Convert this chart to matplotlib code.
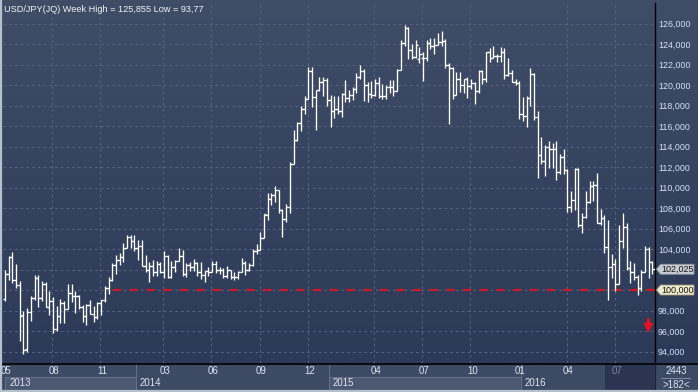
import matplotlib
matplotlib.use('Agg')
import matplotlib.pyplot as plt
import matplotlib.transforms as mtrans
import numpy as np
import pandas as pd
from matplotlib.collections import LineCollection
from matplotlib.patches import Rectangle, Polygon

plt.rcParams['font.family'] = ['Liberation Sans', 'DejaVu Sans']

# ---------------- data ----------------
first_week = '2013-05-06'
opens = [99.1, 101.6, 103.2, 101.0, 100.5, 97.6, 94.2, 97.9, 99.2, 101.2,
         99.2, 100.6, 98.3, 98.9, 96.2, 97.5, 98.7, 98.1, 99.7, 99.4,
         99.4, 98.3, 97.5, 98.5, 97.7, 97.4, 98.7, 99.0, 100.2, 101.0,
         102.4, 102.9, 103.2, 104.1, 105.2, 104.8, 104.1, 104.3, 102.3, 102.0,
         102.3, 101.8, 102.5, 101.8, 103.3, 101.3, 102.2, 102.8, 103.3, 101.6,
         102.4, 102.2, 102.6, 101.8, 101.5, 101.9, 101.8, 102.5, 102.0, 102.0,
         101.4, 102.0, 101.3, 101.3, 101.8, 102.6, 102.0, 102.4, 103.8, 103.9,
         105.1, 107.3, 108.9, 109.3, 109.8, 107.8, 106.9, 108.1, 112.3, 114.6,
         116.3, 117.7, 118.6, 121.4, 118.8, 119.5, 120.3, 120.5, 118.5, 117.5,
         117.7, 117.5, 119.1, 118.7, 119.0, 119.6, 120.8, 121.4, 120.0, 119.1,
         119.0, 120.2, 118.9, 118.9, 119.8, 119.8, 119.4, 121.5, 124.1, 125.6,
         123.4, 122.7, 122.5, 122.6, 122.6, 124.1, 123.8, 123.9, 124.2, 124.3,
         122.0, 121.7, 119.0, 120.6, 120.0, 120.6, 119.9, 120.2, 119.4, 121.4,
         120.6, 123.2, 122.6, 122.8, 122.8, 123.2, 121.0, 121.2, 120.3, 120.2,
         117.2, 117.0, 118.7, 121.1, 116.9, 113.2, 112.6, 114.0, 113.8, 113.8,
         111.5, 113.0, 111.7, 108.1, 108.8, 111.8, 106.3, 107.1, 108.6, 110.1,
         110.2, 106.5, 107.0, 104.2, 102.2, 102.5, 100.6, 104.8, 106.1, 102.1,
         101.8, 101.3, 100.2, 101.8, 104.0, 102.7]
highs = [102.0, 103.3, 103.7, 102.5, 100.9, 98.0, 98.2, 99.4, 101.5, 101.5,
         100.9, 100.8, 99.9, 99.3, 98.4, 99.1, 98.9, 100.6, 100.6, 99.9,
         99.5, 98.5, 98.6, 99.0, 98.4, 98.8, 99.0, 100.4, 101.3, 102.6,
         103.4, 103.6, 104.6, 105.4, 105.4, 105.4, 104.9, 104.9, 103.4, 102.7,
         102.9, 102.8, 102.7, 103.8, 103.4, 102.8, 102.9, 104.1, 103.9, 102.6,
         102.7, 103.0, 102.7, 102.7, 101.9, 102.2, 102.8, 102.8, 102.2, 102.1,
         102.3, 102.0, 101.8, 101.9, 103.1, 102.8, 102.6, 104.0, 104.5, 105.7,
         107.4, 109.5, 109.5, 110.1, 109.8, 107.9, 108.4, 112.5, 115.6, 116.4,
         118.0, 118.9, 121.8, 121.8, 119.5, 120.8, 120.8, 120.7, 119.0, 118.9,
         118.9, 119.2, 120.5, 119.5, 119.8, 121.2, 122.0, 121.6, 120.3, 120.4,
         120.6, 120.8, 120.1, 120.0, 120.5, 120.5, 121.6, 124.4, 125.9, 125.7,
         124.0, 124.4, 123.7, 123.2, 124.4, 124.6, 124.6, 125.1, 125.3, 124.5,
         122.1, 121.8, 121.3, 121.3, 120.6, 120.8, 120.6, 120.3, 121.5, 121.5,
         123.2, 123.6, 123.8, 123.0, 123.7, 123.6, 122.6, 121.5, 120.6, 120.4,
         118.8, 118.9, 121.7, 121.2, 117.5, 114.9, 114.1, 114.5, 114.3, 114.5,
         113.3, 113.8, 111.8, 109.7, 111.9, 111.9, 107.5, 109.7, 110.6, 110.6,
         111.4, 107.9, 107.3, 106.8, 103.5, 103.0, 106.3, 107.5, 106.5, 102.8,
         102.6, 101.5, 102.0, 104.3, 104.2, 102.8]
lows = [98.9, 101.0, 100.7, 100.2, 95.0, 93.8, 94.0, 97.0, 99.0, 98.3,
        98.9, 98.3, 97.6, 95.8, 96.0, 96.8, 96.8, 98.1, 98.8, 97.8,
        98.1, 96.9, 96.6, 97.7, 96.9, 97.2, 97.6, 98.8, 99.6, 100.9,
        101.6, 102.4, 102.7, 104.1, 104.1, 103.8, 102.9, 102.3, 101.8, 100.8,
        101.4, 101.4, 101.7, 101.2, 101.2, 101.2, 101.8, 102.8, 101.4, 101.3,
        101.9, 101.9, 101.4, 101.1, 100.8, 101.4, 101.8, 101.7, 101.6, 101.2,
        101.2, 101.1, 101.0, 101.1, 101.8, 101.5, 101.9, 102.3, 103.5, 103.9,
        105.1, 106.8, 108.3, 108.6, 107.5, 105.2, 106.6, 107.5, 112.3, 114.5,
        115.5, 117.2, 118.6, 117.9, 115.6, 119.4, 118.9, 118.0, 115.9, 116.8,
        117.2, 116.9, 118.3, 118.3, 118.5, 119.2, 120.6, 118.4, 118.3, 118.7,
        118.9, 118.7, 118.6, 118.6, 119.2, 118.9, 119.4, 121.5, 123.8, 122.5,
        122.5, 122.6, 122.1, 120.4, 122.3, 123.5, 123.0, 123.9, 123.8, 121.7,
        116.2, 118.6, 119.0, 119.3, 119.2, 118.7, 119.6, 118.1, 119.2, 120.1,
        120.3, 122.2, 122.6, 122.2, 122.2, 120.6, 120.9, 120.3, 120.0, 116.7,
        116.5, 115.9, 118.0, 116.6, 110.9, 112.3, 111.1, 111.9, 111.9, 110.7,
        111.3, 111.3, 107.6, 107.6, 107.8, 106.1, 105.6, 107.0, 108.5, 108.7,
        106.5, 106.3, 103.6, 99.0, 101.2, 99.9, 100.6, 104.1, 102.0, 100.7,
        101.0, 99.5, 99.9, 101.8, 101.2, 101.6]
closes = [101.6, 103.2, 101.0, 100.5, 97.5, 94.1, 97.9, 99.2, 101.2, 99.2,
          100.6, 98.3, 98.9, 96.2, 97.5, 98.7, 98.1, 99.7, 99.4, 99.4,
          98.3, 97.5, 98.5, 97.7, 97.4, 98.7, 99.0, 100.2, 101.0, 102.4,
          102.9, 103.2, 104.1, 105.2, 104.8, 104.1, 104.3, 102.3, 102.0, 102.3,
          101.8, 102.5, 101.8, 103.3, 101.3, 102.2, 102.8, 103.3, 101.6, 102.4,
          102.2, 102.6, 101.8, 101.5, 101.9, 101.8, 102.5, 102.0, 102.0, 101.4,
          102.0, 101.3, 101.3, 101.8, 102.6, 102.0, 102.4, 103.8, 103.9, 105.1,
          107.4, 108.9, 109.3, 109.8, 107.8, 106.9, 108.1, 112.3, 114.6, 116.3,
          117.7, 118.6, 121.4, 118.8, 119.5, 120.3, 120.5, 118.5, 117.5, 117.7,
          117.5, 119.1, 118.7, 119.0, 119.6, 120.8, 121.4, 120.0, 119.1, 119.0,
          120.2, 118.9, 118.9, 119.8, 119.8, 119.4, 121.5, 124.1, 125.6, 123.4,
          122.7, 123.9, 123.0, 122.6, 124.1, 123.8, 123.9, 124.2, 124.3, 122.0,
          121.7, 119.0, 120.6, 120.0, 120.6, 119.9, 120.2, 119.4, 121.4, 120.6,
          123.2, 122.6, 122.8, 122.8, 123.2, 121.0, 121.2, 120.3, 120.2, 117.2,
          117.0, 118.7, 121.1, 116.9, 113.2, 112.6, 114.0, 113.8, 113.8, 111.5,
          113.0, 111.7, 108.1, 108.8, 111.8, 106.3, 107.1, 108.6, 110.1, 110.2,
          106.5, 107.0, 104.2, 102.2, 102.5, 100.6, 104.8, 106.1, 102.1, 101.8,
          101.3, 100.2, 101.8, 104.0, 102.7, 102.025]

weeks = pd.date_range(first_week, periods=len(opens), freq='7D')

y_ticks = [94, 96, 98, 100, 102, 104, 106, 108, 110, 112, 114, 116, 118, 120, 122, 124, 126]
month_marks = [(2013, 5, '05'), (2013, 8, '08'), (2013, 11, '11'),
               (2014, 3, '03'), (2014, 6, '06'), (2014, 9, '09'), (2014, 12, '12'),
               (2015, 4, '04'), (2015, 7, '07'), (2015, 10, '10'),
               (2016, 1, '01'), (2016, 4, '04'), (2016, 7, '07')]
years = [2013, 2014, 2015, 2016]
title = 'USD/JPY(JQ) Week High = 125,855 Low = 93,77'
last_price = 102.025
ref_level = 100.0
ref_start_week = 29.3
bar_count_text = '2443'
visible_text = '>182<'

# ---------------- layout ----------------
W, H = 698, 392
fig = plt.figure(figsize=(W / 100, H / 100), dpi=100)
fig.patch.set_facecolor('#3c4963')

def fx(px):
    return px / W

def fy(py):
    return 1 - py / H

# gradient background (plot + right scale area)
bg = fig.add_axes([0, fy(363), 1, 363 / H])
t = np.linspace(0, 1, 256)[:, None, None]
c_top = np.array([64, 77, 103]) / 255
c_bot = np.array([44, 57, 88]) / 255
bg.imshow(c_top + (c_bot - c_top) * t, aspect='auto', extent=[0, 1, 0, 1], origin='upper')
bg.set_axis_off()

ax = fig.add_axes([fx(3), fy(363), (655 - 3) / W, (363 - 3) / H])
ax.set_facecolor('none')
xmin, xmax = -0.54, 175.68
ax.set_xlim(xmin, xmax)
ax.set_ylim(92.88, 128.0)

idx = np.arange(len(opens))
month_pos = []
for (yy, mm, lab) in month_marks:
    sel = np.where((weeks.year == yy) & (weeks.month == mm))[0]
    month_pos.append((sel[0], lab))
year_pos = [np.where(weeks.year == yy)[0][0] for yy in years]

# grid
grid_kw = dict(color='#56647f', lw=0.75, ls=(0, (2.5, 3)), zorder=1)
for v in y_ticks:
    ax.axhline(v, **grid_kw)
for p, lab in month_pos[1:]:
    if lab != '01':
        ax.axvline(p - 0.2, **grid_kw)

# OHLC bars
hw = 0.6
segs = []
for i, o, h, l, c in zip(idx, opens, highs, lows, closes):
    segs.append([(i, l), (i, h)])
    segs.append([(i - hw, o), (i, o)])
    segs.append([(i, c), (i + hw, c)])
ax.add_collection(LineCollection(segs, colors='white', linewidths=0.95, zorder=3))

# red reference line
ax.plot([ref_start_week, xmax], [ref_level, ref_level], color='#d8141e', lw=1.5,
        ls=(0, (4, 4)), zorder=2)

# red down arrow
arrow_x = 173.8
ax.plot([arrow_x, arrow_x], [97.25, 96.5], color='#e8101a', lw=2.3,
        solid_capstyle='butt', zorder=4)
ax.plot([arrow_x], [96.35], marker='v', ms=5.5, color='#e8101a', mec='#e8101a', zorder=4)

# axis styling
for s in ['top', 'left', 'bottom']:
    ax.spines[s].set_visible(False)
ax.spines['right'].set_color('#000000')
ax.spines['right'].set_linewidth(1.0)
ax.set_xticks([])
ax.yaxis.tick_right()
ax.set_yticks(y_ticks)
# labels under the price tags are covered in the reference
ax.set_yticklabels(['' if v in (100, 102) else f'{v:.3f}'.replace('.', ',') for v in y_ticks])
ax.tick_params(axis='y', length=0, pad=2.2, labelsize=6.4, labelcolor='#d6e2f4')

# title
fig.text(fx(4), fy(9), title, color='#f2f2f2', fontsize=6.6, va='center', ha='left')

# price tags on right scale
def tag(value, fc, ec):
    yd = ax.transData.transform((0, value))[1]
    yp = H - yd  # image px from top
    h2 = 5
    pts = [(656.5, yp), (660.5, yp - h2), (694, yp - h2), (694, yp + h2), (660.5, yp + h2)]
    fig.patches.append(Polygon([(fx(a), fy(b)) for a, b in pts], closed=True,
                               transform=fig.transFigure, fc=fc, ec=ec, lw=0.6, zorder=5))
    fig.text(fx(677.5), fy(yp), f'{value:.3f}'.replace('.', ','), color='#141414',
             fontsize=6.5, ha='center', va='center', zorder=6)

tag(last_price, '#c9cdd3', '#8e949c')
tag(ref_level, '#efebcb', '#9a977f')

# ---------------- bottom time panel ----------------
pan = fig.add_axes([0, 0, 1, 29 / H])
pan.set_xlim(0, 1)
pan.set_ylim(0, 1)
pan.set_facecolor('#3d4a64')
for s in pan.spines.values():
    s.set_visible(False)
pan.set_xticks([])
pan.set_yticks([])
tr = mtrans.blended_transform_factory(ax.transData, pan.transAxes)

def py(p):
    return (392 - p) / 29

# year row boxes
edges = [0.1] + [p + 0.5 for p in year_pos[1:]] + [xmax]
for k, yy in enumerate(years):
    x0, x1 = edges[k], edges[k + 1]
    light = (k % 2 == 0)
    fc = '#4c5872' if light else '#3d4a64'
    pan.add_patch(Rectangle((x0, py(390)), x1 - x0, py(377) - py(390), transform=tr,
                            fc=fc, ec='#66728c' if light else 'none', lw=0.7, zorder=1))
    pan.text(x0 + 1.0, py(383.5), str(yy), transform=tr, color='#dde6f5',
             fontsize=6.9, ha='left', va='center', zorder=3)
    if k > 0:
        pan.plot([x0, x0], [py(364), py(390)], transform=tr, color='#66728c', lw=0.7, zorder=2)

# highlighted (dark) area at the right end
dark_x0 = 162.2
pan.add_patch(Rectangle((dark_x0, py(390)), xmax - dark_x0, py(364) - py(390), transform=tr,
                        fc='#2b3551', ec='none', zorder=2))

# month labels
for p, lab in month_pos:
    col = '#7b88a0' if p >= dark_x0 else '#dde6f5'
    pan.text(p + 0.3, py(371.5), lab, transform=tr, color=col, fontsize=6.9,
             ha='center', va='center', zorder=3)

# separator lines
pan.plot([0, 1], [py(363.5), py(363.5)], transform=pan.transAxes, color='#000000', lw=1.2, zorder=4)
pan.plot([fx(655), fx(655)], [py(364), py(392)], transform=pan.transAxes, color='#1c2436', lw=0.8, zorder=4)

# right-bottom counters
pan.text(fx(676), py(370.5), bar_count_text, transform=pan.transAxes, color='#dde6f5',
         fontsize=7.0, ha='center', va='center')
pan.plot([fx(661), fx(690)], [py(377.5), py(377.5)], transform=pan.transAxes, color='#8c97ad', lw=0.6)
pan.text(fx(676), py(384.5), visible_text, transform=pan.transAxes, color='#dde6f5',
         fontsize=7.0, ha='center', va='center')

# outer light frame
frame = fig.add_axes([0, 0, 1, 1], facecolor='none')
frame.set_xlim(0, W)
frame.set_ylim(H, 0)
frame.set_axis_off()
frame.plot([1, 1], [0, H], color='#b6bfcc', lw=1.6)
frame.plot([0, W], [391, 391], color='#b6bfcc', lw=1.6)

fig.savefig('out.png', dpi=100, facecolor=fig.get_facecolor())
